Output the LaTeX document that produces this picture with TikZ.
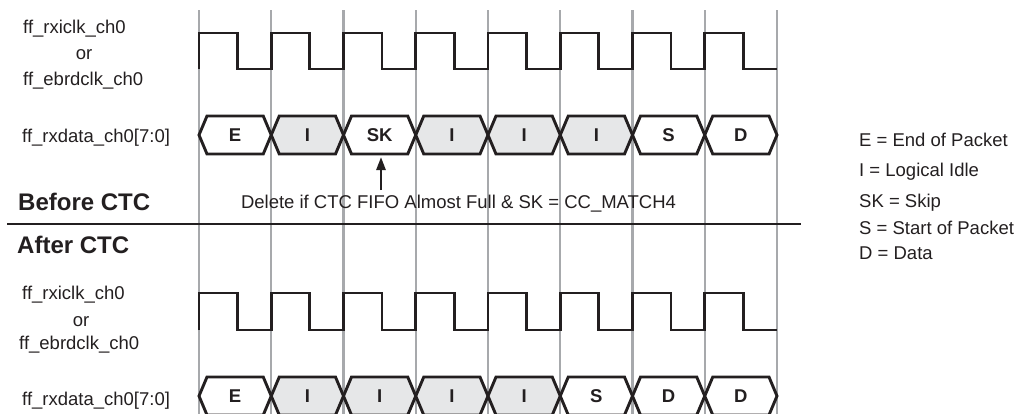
\documentclass[tikz,border=0pt]{standalone}
\usepackage{fontspec}
\setmainfont{Liberation Sans}
\usetikzlibrary{arrows.meta}
\definecolor{ink}{HTML}{231F20}
\definecolor{idle}{HTML}{E6E7E8}
\definecolor{gridc}{HTML}{A7A9AC}
\begin{document}
\begin{tikzpicture}[x=1pt,y=-1pt,
  lab/.style={anchor=west,inner sep=0pt,text=ink,font=\fontsize{18.5}{22}\selectfont},
  ctr/.style={inner sep=0pt,text=ink,font=\fontsize{18.5}{22}\selectfont},
  head/.style={anchor=west,inner sep=0pt,text=ink,font=\fontsize{24}{28}\selectfont\bfseries},
  buslab/.style={inner sep=0pt,text=ink,font=\fontsize{18.5}{22}\selectfont\bfseries},
  bus/.style={draw=ink,line width=2.9pt,line join=miter},
  clk/.style={draw=ink,line width=2.9pt,line join=miter},
  gridline/.style={draw=gridc,line width=2.3pt},
  sep/.style={draw=ink,line width=2.9pt}]
\useasboundingbox (0,0) rectangle (1020,413);
% grid
\foreach \i in {0,...,8}{
  \draw[gridline] ({199+72.25*\i},10) -- ({199+72.25*\i},414);
}
% top clock
\draw[clk] (199,69) \foreach \i in {0,...,7}{ -- ({199+72.25*\i},69) -- ({199+72.25*\i},33) -- ({237.5+72.25*\i},33) -- ({237.5+72.25*\i},69) } -- (777,69);
% bottom clock
\draw[clk] (199,330) \foreach \i in {0,...,7}{ -- ({199+72.25*\i},330) -- ({199+72.25*\i},293) -- ({237.5+72.25*\i},293) -- ({237.5+72.25*\i},330) } -- (777,330);
% top bus
\foreach \lab/\col [count=\i from 0] in {E/white,I/idle,SK/white,I/idle,I/idle,I/idle,S/white,D/white}{
  \pgfmathsetmacro\xa{199+72.25*\i}
  \pgfmathsetmacro\xb{\xa+72.25}
  \draw[bus,fill=\col] (\xa,135) -- (\xa+8,116) -- (\xb-8,116) -- (\xb,135) -- (\xb-8,154) -- (\xa+8,154) -- cycle;
  \node[buslab] (top\i) at ({(\xa+\xb)/2},135) {\lab};
}
% bottom bus
\begin{scope}
\clip (0,0) rectangle (1020,413);
\foreach \lab/\col [count=\i from 0] in {E/white,I/idle,I/idle,I/idle,I/idle,S/white,D/white,D/white}{
  \pgfmathsetmacro\xa{199+72.25*\i}
  \pgfmathsetmacro\xb{\xa+72.25}
  \draw[bus,fill=\col] (\xa,396) -- (\xa+8,377) -- (\xb-8,377) -- (\xb,396) -- (\xb-8,415) -- (\xa+8,415) -- cycle;
  \node[buslab] (bot\i) at ({(\xa+\xb)/2},396) {\lab};
}
\end{scope}
% labels top
\node[lab] (clkA) at (23,29) {ff\_rxiclk\_ch0};
\node[ctr] (orA) at (84,55) {or};
\node[lab] (ebrA) at (23,81) {ff\_ebrdclk\_ch0};
\node[lab] (datA) at (22,138) {ff\_rxdata\_ch0[7:0]};
\node[head] (before) at (18,202) {Before CTC};
% separator
\draw[sep] (7,224) -- (801,224);
% labels bottom
\node[head] (after) at (17,245) {After CTC};
\node[lab] (clkB) at (22,295) {ff\_rxiclk\_ch0};
\node[ctr] (orB) at (81,322) {or};
\node[lab] (ebrB) at (19,345) {ff\_ebrdclk\_ch0};
\node[lab] (datB) at (22,401) {ff\_rxdata\_ch0[7:0]};
% note and arrow
\node[ctr] (del) at (458.5,204) {Delete if CTC FIFO Almost Full \& SK = CC\_MATCH4};
\coordinate (tail) at (381,190);
\coordinate (skb) at (381,157);
\draw[draw=ink,line width=2.6pt,-{Triangle[length=13pt,width=9pt]}] (tail) -- (skb);
% legend
\node[lab] (lgE) at (859,140) {E = End of Packet};
\node[lab] (lgI) at (859,172) {I = Logical Idle};
\node[lab] (lgSK) at (859,203) {SK = Skip};
\node[lab] (lgS) at (859,228) {S = Start of Packet};
\node[lab] (lgD) at (859,253) {D = Data};
\end{tikzpicture}
\end{document}
